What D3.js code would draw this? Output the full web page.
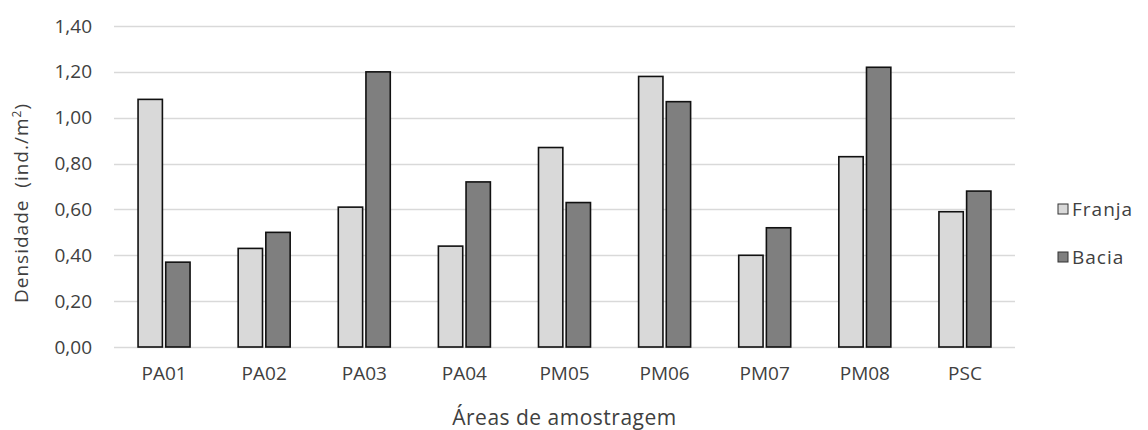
<!DOCTYPE html>
<html>
<head>
<meta charset="utf-8">
<script src="https://cdn.jsdelivr.net/npm/d3@7"></script>
<style>
  body { margin: 0; background: #fff; }
  text { font-family: "Open Sans", sans-serif; fill: #404040; }
</style>
</head>
<body>
<div class="canva"></div>
<script>
const areas = ["PA01", "PA02", "PA03", "PA04", "PM05", "PM06", "PM07", "PM08", "PSC"];
const franja = [1.08, 0.43, 0.61, 0.44, 0.87, 1.18, 0.40, 0.83, 0.59];
const bacia = [0.37, 0.50, 1.20, 0.72, 0.63, 1.07, 0.52, 1.22, 0.68];
const seriesNames = ["Franja", "Bacia"];
const seriesColors = ["#d9d9d9", "#7f7f7f"];
const yTicks = [0, 0.2, 0.4, 0.6, 0.8, 1.0, 1.2, 1.4];

const svg = d3.select(".canva").append("svg")
    .attr("width", 1148)
    .attr("height", 430);

const margin = {top: 26, right: 133, bottom: 83, left: 114};
const width = 1148 - margin.left - margin.right;
const height = 430 - margin.top - margin.bottom;

const graph = svg.append("g")
    .attr("transform", `translate(${margin.left}, ${margin.top})`);

const yScale = d3.scaleLinear().domain([0, 1.4]).range([height, 0]);
const x0 = d3.scaleBand().domain(areas).range([0, width]);
const groupW = 52;
const x1 = d3.scaleBand().domain(seriesNames).range([0, groupW]).paddingInner(0.12);
const fmt = d => d3.format(".2f")(d).replace(".", ",");

// gridlines
graph.selectAll(".grid")
    .data(yTicks)
    .enter()
    .append("line")
    .attr("x1", 0)
    .attr("x2", width)
    .attr("y1", d => Math.round(yScale(d)) + 0.5)
    .attr("y2", d => Math.round(yScale(d)) + 0.5)
    .attr("stroke", "#d9d9d9")
    .attr("stroke-width", 1.5);

const yAxis = d3.axisLeft(yScale).tickValues(yTicks).tickFormat(fmt).tickSize(0).tickPadding(22);
graph.append("g").call(yAxis)
    .call(g => g.select(".domain").remove())
    .selectAll("text").style("font-size", "19px").attr("fill", "#404040");

const xAxis = d3.axisBottom(x0).tickSize(0).tickPadding(20);
graph.append("g")
    .attr("transform", `translate(0, ${height})`)
    .call(xAxis)
    .call(g => g.select(".domain").remove())
    .selectAll("text").style("font-size", "19px").attr("fill", "#404040");

const rows = areas.map((a, i) => ({area: a, values: [franja[i], bacia[i]]}));

const groups = graph.selectAll(".grp")
    .data(rows)
    .enter()
    .append("g")
    .attr("transform", d => `translate(${x0(d.area) + (x0.bandwidth() - groupW) / 2}, 0)`);

groups.selectAll("rect")
    .data(d => d.values.map((v, j) => ({name: seriesNames[j], value: v, color: seriesColors[j]})))
    .enter()
    .append("rect")
    .attr("x", d => x1(d.name))
    .attr("y", d => yScale(d.value))
    .attr("width", x1.bandwidth())
    .attr("height", d => height - yScale(d.value))
    .attr("fill", d => d.color)
    .attr("stroke", "#111")
    .attr("stroke-width", 1.6);

// axis titles
svg.append("text")
    .attr("x", margin.left + width / 2)
    .attr("y", 425)
    .attr("text-anchor", "middle")
    .style("font-size", "21px")
    .style("letter-spacing", "0.5px")
    .text("Áreas de amostragem");

svg.append("text")
    .attr("transform", "translate(28, 203) rotate(-90)")
    .attr("text-anchor", "middle")
    .style("font-size", "19px")
    .style("letter-spacing", "1px")
    .html('Densidade &#160;(ind./m<tspan dy="-7" font-size="12px">2</tspan><tspan dy="7">)</tspan>');

// legend
const legend = svg.selectAll(".legend")
    .data(seriesNames)
    .enter()
    .append("g")
    .attr("transform", (d, i) => `translate(1058, ${204 + i * 48})`);

legend.append("rect")
    .attr("width", 10)
    .attr("height", 10)
    .attr("fill", (d, i) => seriesColors[i])
    .attr("stroke", "#333")
    .attr("stroke-width", 1);

legend.append("text")
    .attr("x", 14)
    .attr("y", 12)
    .style("font-size", "19px")
    .style("letter-spacing", "1px")
    .text(d => d);
</script>
</body>
</html>
